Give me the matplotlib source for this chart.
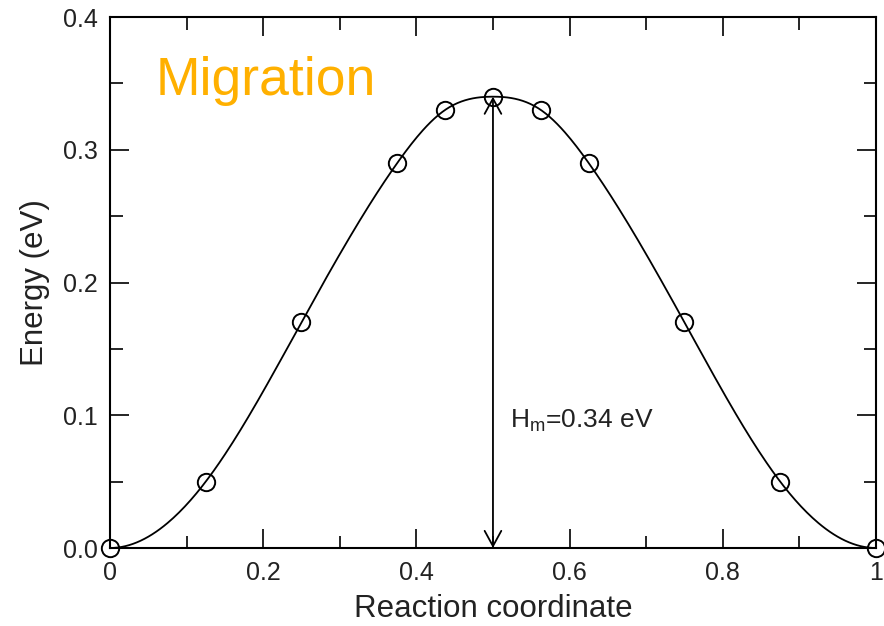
import numpy as np
import matplotlib
matplotlib.use("Agg")
import matplotlib.pyplot as plt
from matplotlib.ticker import MultipleLocator, FixedLocator

# ---- data ----
reaction_coord = [0.0, 0.125, 0.25, 0.375, 0.4375, 0.5, 0.5625, 0.625, 0.75, 0.875, 1.0]
energy_ev = [0.0, 0.05, 0.17, 0.29, 0.33, 0.34, 0.33, 0.29, 0.17, 0.05, 0.0]
x_ticks = [0, 0.2, 0.4, 0.6, 0.8, 1.0]
x_tick_labels = ["0", "0.2", "0.4", "0.6", "0.8", "1"]
y_ticks = [0.0, 0.1, 0.2, 0.3, 0.4]
y_tick_labels = ["0.0", "0.1", "0.2", "0.3", "0.4"]
barrier = 0.34
barrier_x = 0.5


def clamped_spline(x, y, xs):
    """Cubic spline through the points with zero slope at both ends."""
    x = np.asarray(x, float)
    y = np.asarray(y, float)
    n = len(x)
    h = np.diff(x)
    A = np.zeros((n, n))
    b = np.zeros(n)
    A[0, 0] = 2 * h[0]; A[0, 1] = h[0]
    b[0] = 3 * ((y[1] - y[0]) / h[0])
    A[-1, -2] = h[-1]; A[-1, -1] = 2 * h[-1]
    b[-1] = 3 * (-(y[-1] - y[-2]) / h[-1])
    for i in range(1, n - 1):
        A[i, i - 1] = h[i - 1]
        A[i, i] = 2 * (h[i - 1] + h[i])
        A[i, i + 1] = h[i]
        b[i] = 3 * ((y[i + 1] - y[i]) / h[i] - (y[i] - y[i - 1]) / h[i - 1])
    c = np.linalg.solve(A, b)
    out = np.empty_like(xs)
    for k, xv in enumerate(xs):
        i = min(max(np.searchsorted(x, xv) - 1, 0), n - 2)
        dx = xv - x[i]
        bb = (y[i + 1] - y[i]) / h[i] - h[i] * (2 * c[i] + c[i + 1]) / 3
        d = (c[i + 1] - c[i]) / (3 * h[i])
        out[k] = y[i] + bb * dx + c[i] * dx ** 2 + d * dx ** 3
    return out


plt.rcParams['font.family'] = ['Liberation Sans', 'DejaVu Sans']
plt.rcParams['mathtext.fontset'] = 'custom'
plt.rcParams['mathtext.rm'] = 'Liberation Sans'

fig = plt.figure(figsize=(8.84, 6.26), dpi=100)
ax = fig.add_axes([0.1244, 0.1246, 0.8665, 0.8482])

xs = np.linspace(0, 1, 400)
ax.plot(xs, clamped_spline(reaction_coord, energy_ev, xs), color='black', lw=1.3, zorder=2)
ax.plot(reaction_coord, energy_ev, linestyle='none', marker='o', ms=12.5,
        mfc='none', mec='black', mew=1.4, zorder=3, clip_on=False)

ax.annotate('', xy=(barrier_x, 0.0), xytext=(barrier_x, barrier),
            arrowprops=dict(arrowstyle='<->,head_length=0.55,head_width=0.3',
                            color='black', lw=1.3, shrinkA=0, shrinkB=0,
                            mutation_scale=20))

ax.text(0.522, 0.091, r'H$_\mathregular{m}$=0.34 eV', fontsize=19, color='#222222',
        ha='left', va='baseline')
ax.text(0.059, 0.853, 'Migration', transform=ax.transAxes, fontsize=38.5,
        color='#FFB000', ha='left', va='baseline')

ax.set_xlim(0, 1)
ax.set_ylim(0, 0.4)
ax.xaxis.set_major_locator(FixedLocator(x_ticks))
ax.set_xticklabels(x_tick_labels)
ax.yaxis.set_major_locator(FixedLocator(y_ticks))
ax.set_yticklabels(y_tick_labels)
ax.xaxis.set_minor_locator(MultipleLocator(0.1))
ax.yaxis.set_minor_locator(MultipleLocator(0.05))
ax.tick_params(which='both', direction='in', top=True, right=True, width=1.2,
               labelsize=18, labelcolor='#222222')
ax.tick_params(which='major', length=14)
ax.tick_params(which='minor', length=9)
ax.tick_params(axis='x', which='major', pad=9)
ax.tick_params(axis='y', which='major', pad=9)
for s in ax.spines.values():
    s.set_linewidth(1.5)

ax.set_xlabel('Reaction coordinate', fontsize=22.5, color='#222222', labelpad=7)
ax.set_ylabel('Energy (eV)', fontsize=22.5, color='#222222', labelpad=9)

fig.savefig('out.png', dpi=100)
